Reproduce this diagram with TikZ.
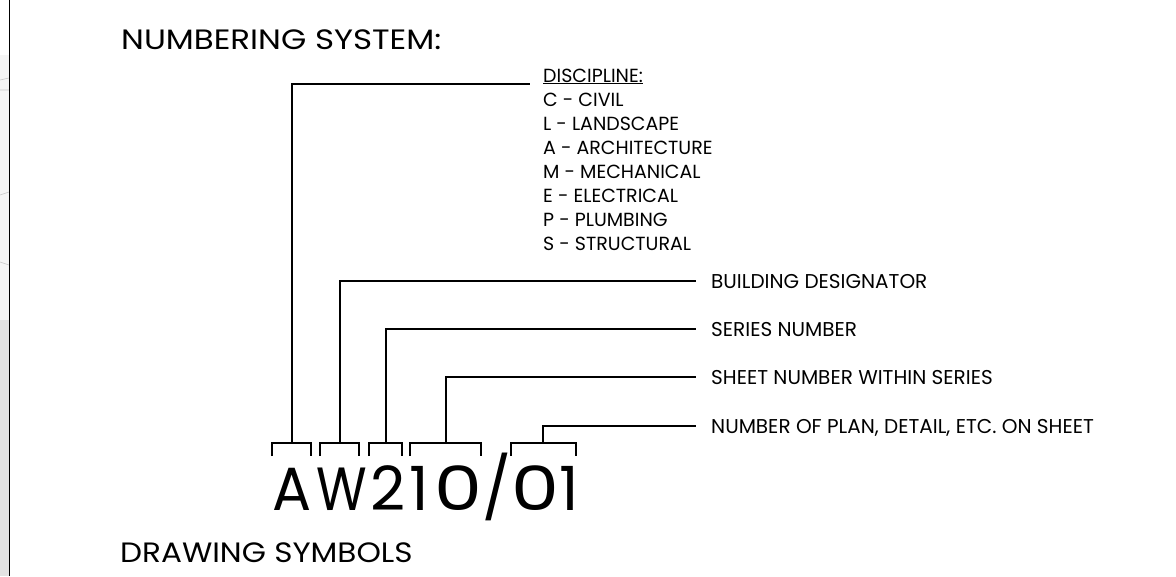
\documentclass[tikz,border=0pt]{standalone}
\usepackage{fontspec}
\setmainfont{Poppins}
\begin{document}
\begin{tikzpicture}[x=1pt,y=-1pt,
  conn/.style={line width=1.7pt, line cap=rect},
  brk/.style={line width=1.7pt},
  lbl/.style={anchor=west, inner xsep=16pt, inner ysep=0pt, text height=14pt, text depth=0pt, font=\fontsize{20}{24}\selectfont},
  ttl/.style={anchor=base west, inner sep=0pt, font=\fontsize{28}{32}\selectfont},
  disc/.style={anchor=base west, inner sep=0pt, font=\fontsize{19}{22}\selectfont}]
\useasboundingbox (0,0) rectangle (1176,576);
% left edge strip (cut-off background)
\fill[gray!8] (0,55) rectangle (9,320);
\fill[gray!22] (0,320) rectangle (9,576);
\draw[gray!45, line width=0.6pt] (0,80) -- (9,78) (0,90) -- (9,90) (0,195) -- (9,192) (0,262) -- (9,265);
\draw[line width=1.4pt] (9.5,0) -- (9.5,576);
% titles
\node[ttl] (title) at (121,49) {\scalebox{1.16}[1]{NUMBERING SYSTEM:}};
\node[ttl] (title2) at (120,562) {\scalebox{1.11}[1]{DRAWING SYMBOLS}};
% discipline list
\node[disc] (discT) at (543,82) {\underline{DISCIPLINE:}};
\node[disc] (dC) at (543,106) {C - CIVIL};
\node[disc] (dL) at (543,130) {L - LANDSCAPE};
\node[disc] (dA) at (543,154) {A - ARCHITECTURE};
\node[disc] (dM) at (543,178) {M - MECHANICAL};
\node[disc] (dE) at (543,202) {E - ELECTRICAL};
\node[disc] (dP) at (543,226) {P - PLUMBING};
\node[disc] (dS) at (543,250) {S - STRUCTURAL};
% right labels
\node[lbl] (bd) at (695,281) {BUILDING DESIGNATOR};
\node[lbl] (sn) at (695,329) {SERIES NUMBER};
\node[lbl] (sh) at (695,377) {SHEET NUMBER WITHIN SERIES};
\node[lbl] (np) at (695,426) {NUMBER OF PLAN, DETAIL, ETC. ON SHEET};
% big code
\node[anchor=base west, inner sep=0pt, font=\fontsize{61}{61}\selectfont] (code) at (272,510)
  {\makebox[40pt]{\scalebox{0.95}[1]{A}}\makebox[59pt]{\scalebox{0.85}[1]{W}}\makebox[33pt]{2}\makebox[30pt]{1}\makebox[49pt]{\scalebox{1.25}[1]{0}}\makebox[27pt]{/}\makebox[50pt]{\scalebox{1.25}[1]{0}}\makebox[18pt]{1}};
% bracket stems
\coordinate (sA) at (292,443);
\coordinate (sW) at (340,443);
\coordinate (s2) at (386,443);
\coordinate (s10) at (446,443);
\coordinate (s01) at (543,443);
\coordinate (discend) at (529,84);
% brackets
\draw[brk] (272,456) |- (311,443) -- (311,456);
\draw[brk] (320,456) |- (359,443) -- (359,456);
\draw[brk] (369,456) |- (402,443) -- (402,456);
\draw[brk] (410,456) |- (481,443) -- (481,456);
\draw[brk] (511,456) |- (576,443) -- (576,456);
% connectors
\draw[conn] (discend) -| (sA);
\draw[conn] (bd.west) -| (sW);
\draw[conn] (sn.west) -| (s2);
\draw[conn] (sh.west) -| (s10);
\draw[conn] (np.west) -| (s01);
\end{tikzpicture}
\end{document}
